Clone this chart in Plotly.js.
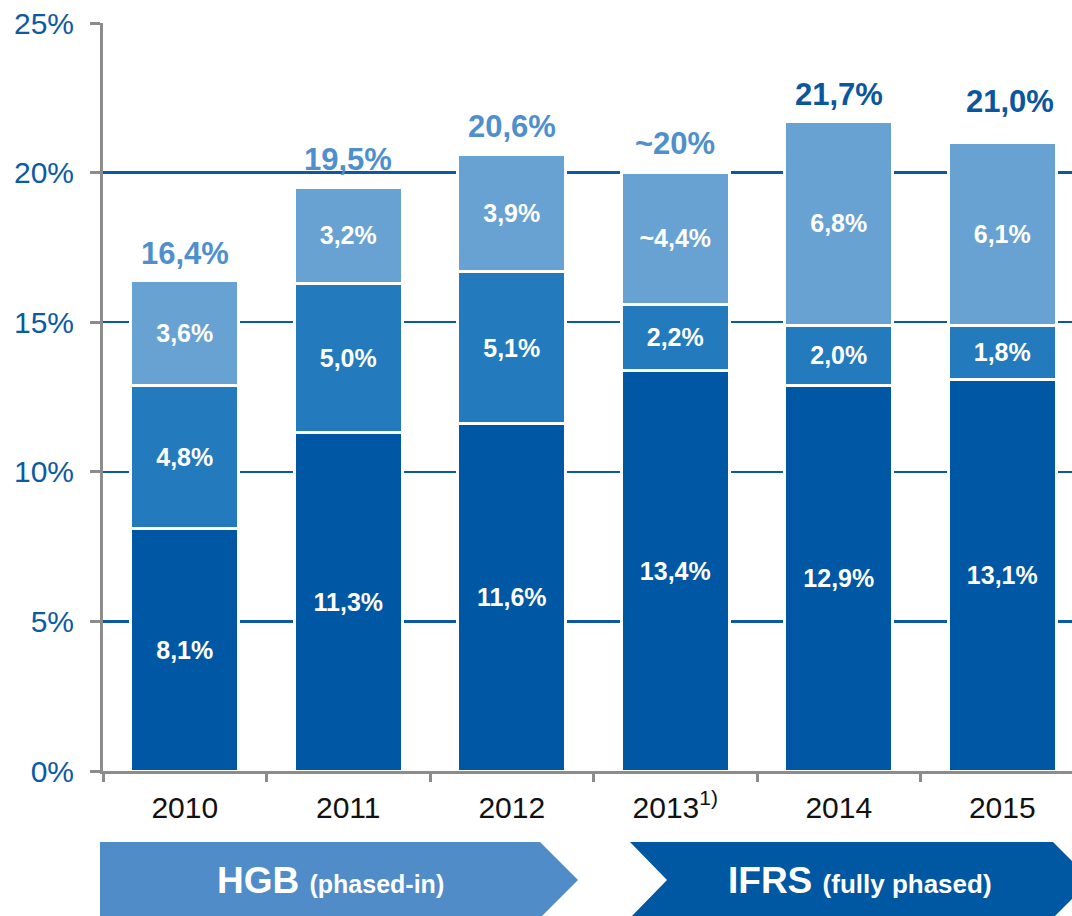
<!DOCTYPE html>
<html>
<head>
<meta charset="utf-8">
<script src="https://cdn.plot.ly/plotly-3.0.1.min.js"></script>
<style>html,body{margin:0;padding:0;overflow:hidden;background:#fff;}</style>
</head>
<body>
<div id="chart" style="width:1072px;height:916px;"></div>
<script>
// ---- data ----
const years = ['2010', '2011', '2012', '2013', '2014', '2015'];
const yearLabels = ['2010', '2011', '2012', '2013<sup>1)</sup>', '2014', '2015'];
const baseValues = [8.1, 11.3, 11.6, 13.4, 12.9, 13.1];
const midValues = [4.8, 5.0, 5.1, 2.2, 2.0, 1.8];
const topValues = [3.5, 3.2, 3.9, 4.4, 6.8, 6.1];
const baseLabels = ['8,1%', '11,3%', '11,6%', '13,4%', '12,9%', '13,1%'];
const midLabels = ['4,8%', '5,0%', '5,1%', '2,2%', '2,0%', '1,8%'];
const topLabels = ['3,6%', '3,2%', '3,9%', '~4,4%', '6,8%', '6,1%'];
const totals = [16.4, 19.5, 20.6, 20.0, 21.7, 21.0];
const totalLabels = ['16,4%', '19,5%', '20,6%', '~20%', '21,7%', '21,0%'];
const yTicks = [0, 5, 10, 15, 20, 25];
const yTickLabels = ['0%', '5%', '10%', '15%', '20%', '25%'];

// ---- style ----
const cDark = '#0057a3', cMid = '#237bbd', cLight = '#68a2d3';
const cTotLight = '#4f8fce', cTotDark = '#0a56a0';
const FONT = 'Liberation Sans, Arial, sans-serif';
const totalColors = [cTotLight, cTotLight, cTotLight, cTotLight, cTotDark, cTotDark];
const totalShift = [7, 9, 9, 10, 8, 22];
const totalXShift = [0, 0, 0, 0, 0, 8];

const ML = 103, MT = 23, MB = 145, W = 1072, H = 916;
const PW = W - ML, PH = H - MT - MB;
const px = v => (v - ML) / PW;
const py = v => (H - MB - v) / PH;
function path(pts) {
  return 'M ' + pts.map(p => px(p[0]).toFixed(5) + ',' + py(p[1]).toFixed(5)).join(' L ') + ' Z';
}

function seg(vals, labels, color) {
  return {
    type: 'bar', x: years, y: vals, text: labels,
    textposition: 'inside', insidetextanchor: 'middle', textangle: 0,
    constraintext: 'none',
    textfont: {family: FONT, size: 25, color: '#ffffff', weight: 'bold'},
    marker: {color: color, line: {color: '#ffffff', width: 3}},
    hoverinfo: 'skip', showlegend: false
  };
}

const data = [
  seg(baseValues, baseLabels, cDark),
  seg(midValues, midLabels, cMid),
  seg(topValues, topLabels, cLight)
];

const annotations = years.map((yr, i) => ({
  x: i, y: totals[i], xref: 'x', yref: 'y',
  text: '<b>' + totalLabels[i] + '</b>', showarrow: false,
  xanchor: 'center', yanchor: 'bottom', yshift: totalShift[i], xshift: totalXShift[i],
  font: {family: FONT, size: 31, color: totalColors[i]}
}));

annotations.push({
  xref: 'paper', yref: 'paper', x: px(330), y: py(880),
  xanchor: 'center', yanchor: 'middle', showarrow: false,
  text: "<b>HGB <span style='font-size:25px'>(phased-in)</span></b>",
  font: {family: FONT, size: 37, color: '#ffffff'}
});
annotations.push({
  xref: 'paper', yref: 'paper', x: px(860), y: py(880),
  xanchor: 'center', yanchor: 'middle', showarrow: false,
  text: "<b>IFRS <span style='font-size:26px'>(fully phased)</span></b>",
  font: {family: FONT, size: 37, color: '#ffffff'}
});

const shapes = [
  {type: 'path', xref: 'paper', yref: 'paper', layer: 'below',
   path: path([[100, 842], [540, 842], [578, 880], [540, 918], [100, 918]]),
   fillcolor: '#4f8cc8', line: {width: 0}},
  {type: 'path', xref: 'paper', yref: 'paper', layer: 'below',
   path: path([[630, 842], [1053, 842], [1091, 880], [1053, 918], [630, 918], [667, 880]]),
   fillcolor: '#0057a2', line: {width: 0}}
];

const layout = {
  width: W, height: H,
  margin: {l: ML, r: 0, t: MT, b: MB, pad: 0},
  barmode: 'stack', bargap: 0.34,
  paper_bgcolor: '#ffffff', plot_bgcolor: '#ffffff',
  hovermode: false, showlegend: false,
  font: {family: FONT},
  xaxis: {
    type: 'category', range: [-0.5, -0.5 + PW / 163.5],
    tickvals: years, ticktext: yearLabels,
    tickson: 'boundaries', ticks: 'outside', ticklen: 8, tickwidth: 3, tickcolor: '#8c8c8c',
    showline: true, linecolor: '#8c8c8c', linewidth: 3,
    showgrid: false, zeroline: false, fixedrange: true,
    tickfont: {family: FONT, size: 30, color: '#111111'},
    ticklabelstandoff: 8
  },
  yaxis: {
    range: [0, 25], tickvals: yTicks, ticktext: yTickLabels,
    ticks: 'outside', ticklen: 10, tickwidth: 3, tickcolor: '#8c8c8c',
    showline: true, linecolor: '#8c8c8c', linewidth: 3,
    showgrid: true, gridcolor: '#0b58a3', gridwidth: 2.5, zeroline: false, fixedrange: true,
    tickfont: {family: FONT, size: 30, color: '#0b5aa5'},
    ticklabelstandoff: 10
  },
  annotations: annotations,
  shapes: shapes
};

Plotly.newPlot('chart', data, layout, {displayModeBar: false, staticPlot: true});
</script>
</body>
</html>
